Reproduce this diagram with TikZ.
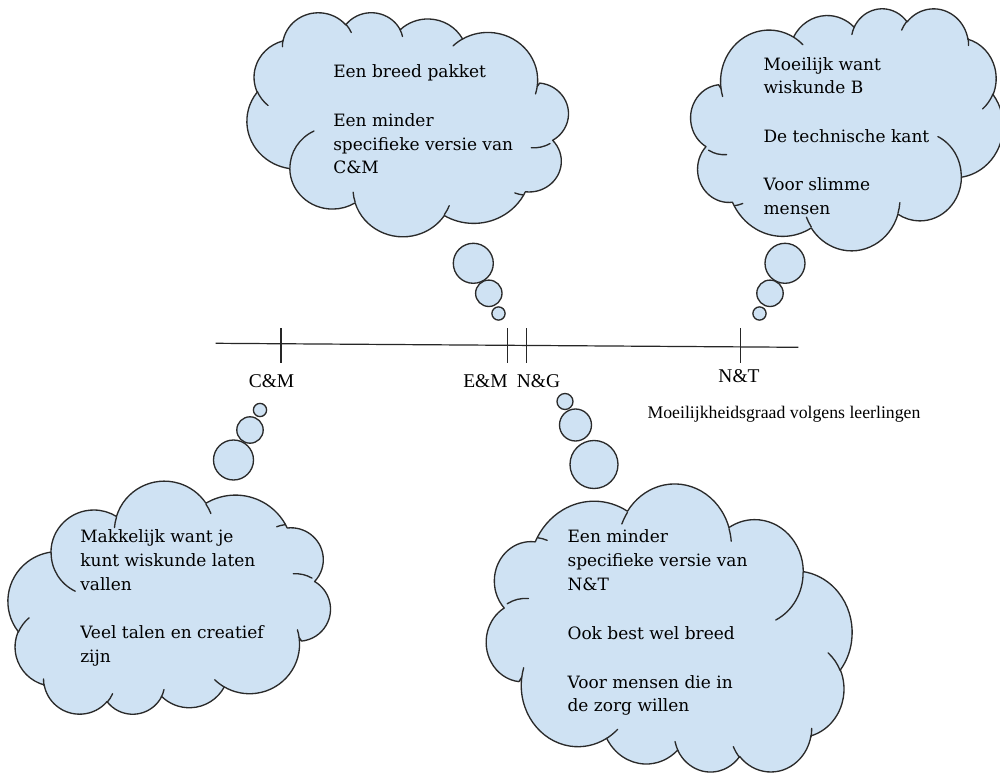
\documentclass[tikz,border=0pt]{standalone}
\usepackage{fontspec}
\setmainfont{DejaVu Serif}
\newfontfamily\cloudserif{DejaVu Serif}
\newfontfamily\labelserif{Liberation Serif}
\definecolor{cloudblue}{HTML}{CFE2F3}
\definecolor{cloudline}{HTML}{2A2A2A}
\newcommand\cloudfont{\cloudserif\fontsize{12.75}{15}\selectfont}
\newcommand\tickfont{\labelserif\fontsize{14.6}{17}\selectfont}
\newcommand\notefont{\labelserif\fontsize{13.3}{16}\selectfont}

% ---- Word-style cloud outline, built in a 0..100 box (y downwards) ----
\newcommand\cloudouter{(9.028,33.264)}
\newcommand\cloudinner{}
\newcommand\cldarc[5]{%
  \pgfmathsetmacro\cldTa{atan2((#2)*sin(#4),(#3)*cos(#4))}%
  \pgfmathsetmacro\cldTb{atan2((#2)*sin((#4)+(#5)),(#3)*cos((#4)+(#5)))}%
  \pgfmathsetmacro\cldDd{\cldTb-\cldTa}%
  \pgfmathsetmacro\cldDd{\cldDd<0 ? \cldDd+360 : \cldDd}%
  \xdef#1{\unexpanded\expandafter{#1} arc[start angle=\cldTa, delta angle=\cldDd, x radius=#2, y radius=#3]}%
}
\newcommand\cldmove[2]{\xdef\cloudinner{\unexpanded\expandafter{\cloudinner} (#1,#2)}}

\cldarc\cloudouter{15.632}{21.273}{-190.4875}{123.7805}
\cldarc\cloudouter{12.345}{16.822}{-144.1024}{89.9452}
\cldarc\cloudouter{10.104}{13.762}{-145.8079}{99.7230}
\cldarc\cloudouter{11.243}{15.266}{-130.9861}{117.2417}
\cldarc\cloudouter{12.345}{16.836}{-78.7089}{109.0269}
\cldarc\cloudouter{15.683}{21.343}{-46.2673}{130.269}
\cldarc\cloudouter{13.391}{18.211}{0.625}{114.033}
\cldarc\cloudouter{15.630}{21.331}{22.4516}{115.1726}
\cldarc\cloudouter{17.870}{24.405}{66.2426}{81.369}
\cldarc\cloudouter{10.093}{13.699}{-274.942}{146.7356}
\cldarc\cloudouter{10.058}{13.762}{-246.8285}{152.5189}

\cldmove{10.863}{60.595}\cldarc\cloudinner{10.058}{13.762}{86.742}{26.4295}
\cldmove{16.037}{80.785}\cldarc\cloudinner{10.093}{13.699}{73.6105}{11.4475}
\cldmove{38.144}{90.486}\cldarc\cloudinner{15.630}{21.331}{137.624}{14.0811}
\cldmove{66.729}{80.442}\cldarc\cloudinner{15.630}{21.331}{6.4533}{15.998}
\cldmove{79.002}{53.134}\cldarc\cloudinner{13.391}{18.211}{-70.2924}{70.9174}
\cldmove{96.755}{35.542}\cldarc\cloudinner{12.345}{16.836}{30.318}{27.7515}
\cldmove{88.713}{12.560}\cldarc\cloudinner{11.243}{15.266}{-13.7443}{14.8589}
\cldmove{67.310}{9.148}\cldarc\cloudinner{11.243}{15.266}{-149.1815}{18.1954}
\cldmove{51.252}{10.926}\cldarc\cloudinner{10.104}{13.762}{-163.4943}{17.6864}
\cldmove{32.407}{12.019}\cldarc\cloudinner{15.632}{21.273}{-66.707}{12.3194}
\cldmove{9.553}{36.549}\cldarc\cloudinner{15.632}{21.273}{157.6544}{11.8582}

\tikzset{
  cloudshape/.style={fill=cloudblue, draw=cloudline, line width=1pt, line join=round},
  cloudcrease/.style={draw=cloudline, line width=1pt, line cap=round},
  bubble/.style={fill=cloudblue, draw=cloudline, line width=1pt},
  cloudtxt/.style={anchor=base west, inner sep=0pt, font=\cloudfont, text=black},
  ticklbl/.style={anchor=base, inner sep=0pt, font=\tickfont, text=black},
  axisline/.style={draw=black!85, line width=0.9pt},
}

\begin{document}
\begin{tikzpicture}[x=0.75pt,y=-0.75pt]
\fill[white] (0,0) rectangle (1000,773);
\useasboundingbox (0,0) rectangle (1000,773);

% ---------- clouds ----------
% top middle (mirrored horizontally)
\begin{scope}[shift={(566,12)}, x={(-2.3925pt,0pt)}, y={(0pt,-1.68pt)}]
  \draw[cloudshape] \cloudouter -- cycle;
  \draw[cloudcrease] \cloudinner;
\end{scope}
% top right (standard)
\begin{scope}[shift={(693,8)}, x={(2.325pt,0pt)}, y={(0pt,-1.815pt)}]
  \draw[cloudshape] \cloudouter -- cycle;
  \draw[cloudcrease] \cloudinner;
\end{scope}
% bottom left (mirrored both ways)
\begin{scope}[shift={(328,715)}, x={(-2.4pt,0pt)}, y={(0pt,1.7475pt)}]
  \draw[cloudshape] \cloudouter -- cycle;
  \draw[cloudcrease] \cloudinner;
\end{scope}
% bottom right (mirrored vertically)
\begin{scope}[shift={(489,773)}, x={(2.7225pt,0pt)}, y={(0pt,2.16pt)}]
  \draw[cloudshape] \cloudouter -- cycle;
  \draw[cloudcrease] \cloudinner;
\end{scope}

% ---------- thought bubbles ----------
\draw[bubble] (473.3,263.3) circle[radius=20];
\draw[bubble] (488.8,293.3) circle[radius=13.2];
\draw[bubble] (498.5,313.5) circle[radius=6.6];

\draw[bubble] (785,263.3) circle[radius=20];
\draw[bubble] (770,293.3) circle[radius=13.2];
\draw[bubble] (759.5,313.5) circle[radius=6.6];

\draw[bubble] (233.5,460) circle[radius=20];
\draw[bubble] (250,430) circle[radius=13.2];
\draw[bubble] (260,410) circle[radius=6.6];

\draw[bubble] (594,464.5) circle[radius=24];
\draw[bubble] (575.5,425) circle[radius=16];
\draw[bubble] (565,401.5) circle[radius=8];

% ---------- axis ----------
\coordinate (ax0) at (215.7,343.3);
\coordinate (ax1) at (798.3,347.3);
\draw[axisline] (ax0) -- (ax1);
\coordinate (cmT) at (281,328.3);   \coordinate (cmB) at (281,362.7);
\coordinate (emT) at (507.7,328.3); \coordinate (emB) at (507.7,362.7);
\coordinate (ngT) at (526.7,328.3); \coordinate (ngB) at (526.7,362.7);
\coordinate (ntT) at (740.7,328.3); \coordinate (ntB) at (740.7,362.7);
\draw[axisline] (cmT) -- (cmB);
\draw[axisline] (emT) -- (emB);
\draw[axisline] (ngT) -- (ngB);
\draw[axisline] (ntT) -- (ntB);

\node[ticklbl] (lcm) at (271.5,388) {C\&M};
\node[ticklbl] (lem) at (485.5,388) {E\&M};
\node[ticklbl] (lng) at (538.5,388) {N\&G};
\node[ticklbl] (lnt) at (739,383) {N\&T};
\node[anchor=base west, inner sep=0pt, font=\notefont] (note) at (647.3,419) {Moeilijkheidsgraad volgens leerlingen};

% ---------- cloud texts ----------
\node[cloudtxt] (a1) at (333,77.5)  {Een breed pakket};
\node[cloudtxt] (a2) at (333,126.5) {Een minder};
\node[cloudtxt] (a3) at (333,150.5) {specifieke versie van};
\node[cloudtxt] (a4) at (333,174)   {C\&M};

\node[cloudtxt] (b1) at (763.3,71)  {Moeilijk want};
\node[cloudtxt] (b2) at (763.3,94)  {wiskunde B};
\node[cloudtxt] (b3) at (763.3,142.5) {De technische kant};
\node[cloudtxt] (b4) at (763.3,191) {Voor slimme};
\node[cloudtxt] (b5) at (763.3,215) {mensen};

\node[cloudtxt] (c1) at (80,542.5)  {Makkelijk want je};
\node[cloudtxt] (c2) at (80,566.5)  {kunt wiskunde laten};
\node[cloudtxt] (c3) at (80,590)    {vallen};
\node[cloudtxt] (c4) at (80,638.3)  {Veel talen en creatief};
\node[cloudtxt] (c5) at (80,662)    {zijn};

\node[cloudtxt] (d1) at (567.3,542.5) {Een minder};
\node[cloudtxt] (d2) at (567.3,566.5) {specifieke versie van};
\node[cloudtxt] (d3) at (567.3,590.5) {N\&T};
\node[cloudtxt] (d4) at (567.3,639)   {Ook best wel breed};
\node[cloudtxt] (d5) at (567.3,688)   {Voor mensen die in};
\node[cloudtxt] (d6) at (567.3,711)   {de zorg willen};
\end{tikzpicture}
\end{document}
